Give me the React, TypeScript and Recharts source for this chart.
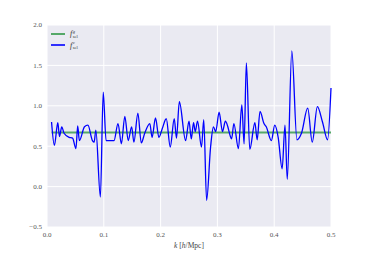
import React from 'react';
import { LineChart, Line, XAxis, YAxis, CartesianGrid } from 'recharts';

// k values [h/Mpc] and the selection function f^c_sel
const kValues = [
  0.008, 0.013, 0.019, 0.022, 0.026, 0.03, 0.039, 0.045, 0.051, 0.054,
  0.057, 0.066, 0.072, 0.08, 0.083, 0.086, 0.094, 0.099, 0.104, 0.112,
  0.118, 0.125, 0.131, 0.137, 0.143, 0.149, 0.153, 0.16, 0.166, 0.172,
  0.181, 0.185, 0.191, 0.197, 0.203, 0.21, 0.217, 0.224, 0.228, 0.233,
  0.244, 0.25, 0.254, 0.258, 0.261, 0.265, 0.272, 0.276, 0.281, 0.288,
  0.293, 0.297, 0.303, 0.309, 0.314, 0.318, 0.322, 0.325, 0.329, 0.337,
  0.343, 0.347, 0.351, 0.357, 0.366, 0.37, 0.375, 0.382, 0.386, 0.395,
  0.401, 0.407, 0.414, 0.419, 0.423, 0.431, 0.44, 0.448, 0.459, 0.467,
  0.476, 0.485, 0.494, 0.5,
];
const fcValues = [
  0.8, 0.51, 0.79, 0.62, 0.74, 0.66, 0.61, 0.6, 0.47, 0.75,
  0.57, 0.74, 0.76, 0.57, 0.55, 0.7, -0.13, 1.17, 0.57, 0.57,
  0.57, 0.78, 0.53, 0.87, 0.57, 0.74, 0.55, 0.91, 0.54, 0.66,
  0.78, 0.61, 0.85, 0.61, 0.72, 0.84, 0.49, 0.84, 0.6, 1.05,
  0.57, 0.81, 0.59, 0.79, 0.68, 0.81, 0.49, 0.83, -0.17, 0.49,
  0.74, 0.68, 0.92, 0.68, 0.81, 0.75, 0.64, 0.59, 0.78, 0.47,
  1.01, 0.53, 1.53, 0.46, 0.79, 0.58, 0.93, 0.78, 0.74, 0.57,
  0.76, 0.61, 0.22, 0.76, 0.09, 1.68, 0.58, 0.66, 0.97, 0.55,
  0.99, 0.8, 0.58, 1.22,
];
// f^g_sel is flat
const fgRange = [0.008, 0.5];
const fgValue = 0.67;

const xTicks = [0, 0.1, 0.2, 0.3, 0.4, 0.5];
const yTicks = [-0.5, 0, 0.5, 1.0, 1.5, 2.0];

const fcData = kValues.map((k, i) => ({ k, fc: fcValues[i] }));
const fgData = fgRange.map((k) => ({ k, fg: fgValue }));

const FONT = '"Liberation Serif", "DejaVu Serif", serif';
const tickStyle = { fill: '#555', fontSize: 7, fontFamily: FONT };

const SelLabel = ({ sup }: { sup: string }) => (
  <span style={{ display: 'inline-flex', alignItems: 'center', fontFamily: FONT, color: '#333' }}>
    <i style={{ fontSize: 8 }}>f</i>
    <span style={{ display: 'inline-flex', flexDirection: 'column', fontSize: 4.5, lineHeight: '5px', marginLeft: 0.5 }}>
      <i>{sup}</i>
      <span>sel</span>
    </span>
  </span>
);

const LegendBox = () => (
  <div style={{ position: 'absolute', left: 51, top: 28, display: 'flex', flexDirection: 'column', gap: 0.5 }}>
    {[
      { color: '#55A868', sup: 'g', w: 2 },
      { color: '#0000FF', sup: 'c', w: 1.6 },
    ].map((it) => (
      <div key={it.sup} style={{ display: 'flex', alignItems: 'center', height: 11 }}>
        <svg width={14} height={4} style={{ marginRight: 5 }}>
          <line x1={0} y1={2} x2={14} y2={2} stroke={it.color} strokeWidth={it.w} />
        </svg>
        <SelLabel sup={it.sup} />
      </div>
    ))}
  </div>
);

const XLabel = ({ viewBox }: any) => {
  const cx = viewBox.x + viewBox.width / 2;
  return (
    <text x={cx} y={248} textAnchor="middle" fontFamily={FONT} fontSize={7.5} fill="#444">
      <tspan fontStyle="italic">k</tspan> [<tspan fontStyle="italic">h</tspan>/Mpc]
    </text>
  );
};

export default function App() {
  return (
    <div style={{ position: 'absolute', left: 0, top: 0, width: 368, height: 253, background: '#fff' }}>
      <LineChart width={368} height={253} margin={{ top: 25, right: 37, bottom: 0, left: 0 }}>
        <CartesianGrid fill="#EAEAF2" stroke="#fff" strokeWidth={1} horizontalValues={yTicks} verticalValues={xTicks} />
        <XAxis
          type="number"
          dataKey="k"
          domain={[0, 0.5]}
          ticks={xTicks}
          tickFormatter={(v: number) => v.toFixed(1)}
          axisLine={false}
          tickLine={false}
          tickSize={0}
          tickMargin={5}
          height={26}
          tick={tickStyle}
          allowDuplicatedCategory={false}
          label={{ content: XLabel }}
        />
        <YAxis
          type="number"
          domain={[-0.5, 2.0]}
          ticks={yTicks}
          tickFormatter={(v: number) => (v < 0 ? '\u2212' + Math.abs(v).toFixed(1) : v.toFixed(1))}
          axisLine={false}
          tickLine={false}
          tickSize={0}
          tickMargin={5}
          width={47}
          tick={tickStyle}
        />
        <Line
          data={fgData}
          dataKey="fg"
          name="g"
          type="linear"
          stroke="#55A868"
          strokeWidth={2}
          dot={false}
          isAnimationActive={false}
        />
        <Line
          data={fcData}
          dataKey="fc"
          name="c"
          type="monotone"
          stroke="#0000FF"
          strokeWidth={1.3}
          dot={false}
          isAnimationActive={false}
        />
      </LineChart>
      <LegendBox />
    </div>
  );
}
